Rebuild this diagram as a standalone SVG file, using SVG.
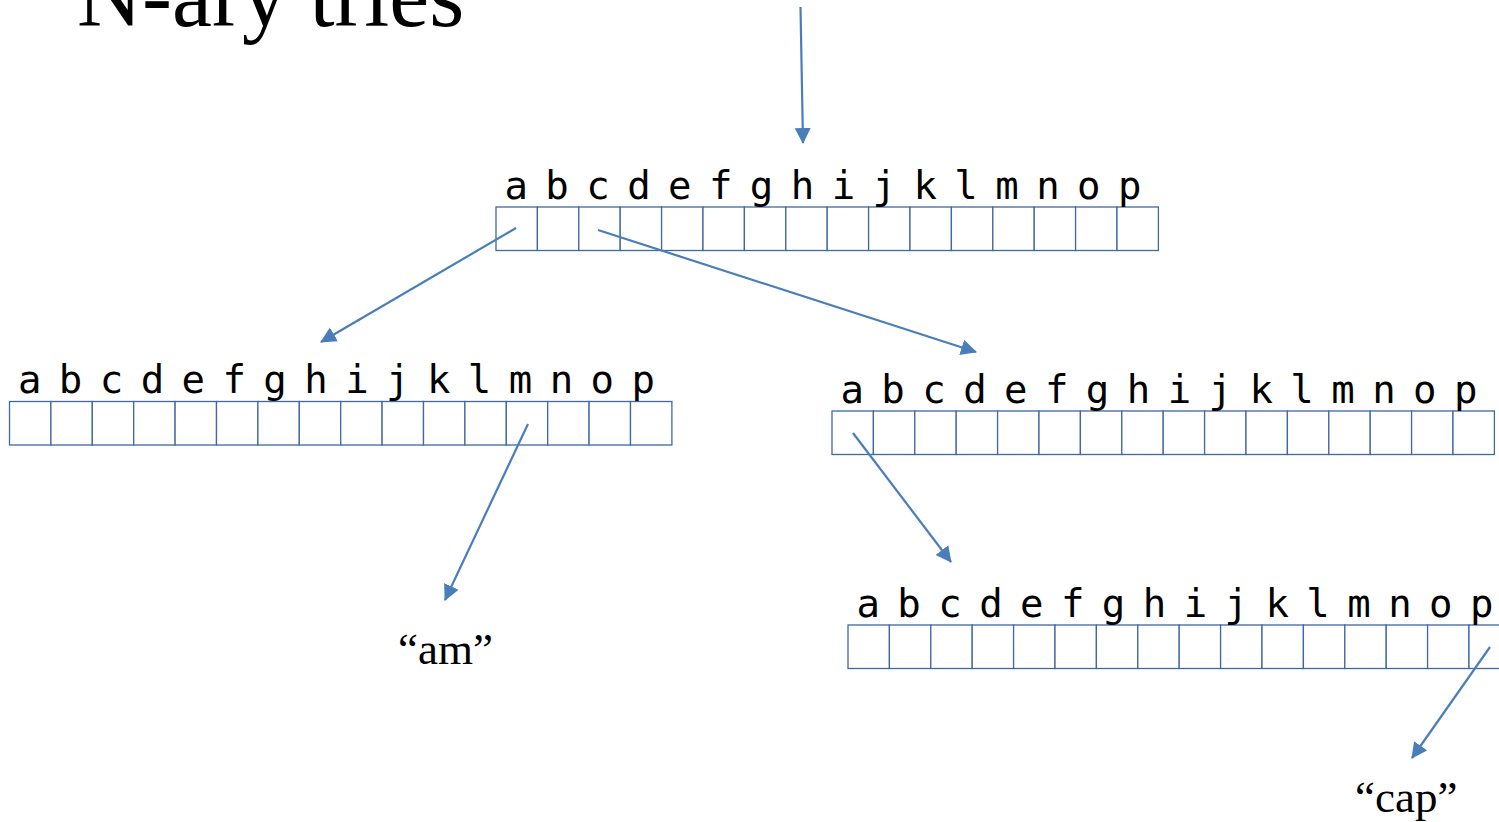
<svg xmlns="http://www.w3.org/2000/svg" width="1499" height="822" viewBox="0 0 1499 822">
  <style>
    .title { font-family: "Liberation Serif", "Times New Roman", serif; font-size: 90px; fill: #000; }
    .word { font-family: "Liberation Serif", "Times New Roman", serif; font-size: 45px; fill: #000; }
    .keys { font-family: "DejaVu Sans Mono", "Liberation Mono", monospace; font-size: 39px; fill: #000; text-anchor: middle; }
    .cell { fill: #fff; stroke: #41699f; stroke-width: 1.3; }
    .link { stroke: #4a7ebb; stroke-width: 2.2; fill: none; marker-end: url(#head); }
  </style>
  <defs>
    <marker id="head" markerUnits="userSpaceOnUse" markerWidth="18" markerHeight="18" refX="15" refY="8" orient="auto">
      <path d="M0,0 L16,8 L0,16 z" fill="#4a7ebb"/>
    </marker>
    <!-- one trie node: 16 child slots labelled a..p -->
    <g id="slots">
      <rect class="cell" x="0" y="0" width="41.4" height="43.5"/>
      <rect class="cell" x="41.4" y="0" width="41.4" height="43.5"/>
      <rect class="cell" x="82.8" y="0" width="41.4" height="43.5"/>
      <rect class="cell" x="124.2" y="0" width="41.4" height="43.5"/>
      <rect class="cell" x="165.6" y="0" width="41.4" height="43.5"/>
      <rect class="cell" x="207" y="0" width="41.4" height="43.5"/>
      <rect class="cell" x="248.4" y="0" width="41.4" height="43.5"/>
      <rect class="cell" x="289.8" y="0" width="41.4" height="43.5"/>
      <rect class="cell" x="331.2" y="0" width="41.4" height="43.5"/>
      <rect class="cell" x="372.6" y="0" width="41.4" height="43.5"/>
      <rect class="cell" x="414" y="0" width="41.4" height="43.5"/>
      <rect class="cell" x="455.4" y="0" width="41.4" height="43.5"/>
      <rect class="cell" x="496.8" y="0" width="41.4" height="43.5"/>
      <rect class="cell" x="538.2" y="0" width="41.4" height="43.5"/>
      <rect class="cell" x="579.6" y="0" width="41.4" height="43.5"/>
      <rect class="cell" x="621" y="0" width="41.4" height="43.5"/>
      <text class="keys" y="-8.5" x="20.2 61.1 102 142.9 183.8 224.7 265.6 306.5 347.4 388.3 429.2 470.1 511 551.9 592.8 633.7">abcdefghijklmnop</text>
    </g>
  </defs>

  <text class="title" x="77" y="26">N-ary tries</text>

  <g id="root">
    <use href="#slots" x="496" y="207"/>
  </g>
  <g id="node-a">
    <use href="#slots" x="9.5" y="401.5"/>
  </g>
  <g id="node-c">
    <use href="#slots" x="832" y="411"/>
  </g>
  <g id="node-ca">
    <use href="#slots" x="848" y="625"/>
  </g>
  <g id="leaf-am">
    <text class="word" x="398" y="664">“am”</text>
  </g>
  <g id="leaf-cap">
    <text class="word" x="1355" y="812">“cap”</text>
  </g>

  <g id="connectors">
    <line class="link" x1="800.5" y1="7" x2="803" y2="143"/>
    <line class="link" x1="516" y1="228" x2="321" y2="342"/>
    <line class="link" x1="598" y1="230" x2="976" y2="352"/>
    <line class="link" x1="528" y1="424" x2="445" y2="600"/>
    <line class="link" x1="853" y1="433" x2="951" y2="562"/>
    <line class="link" x1="1490" y1="647" x2="1412" y2="758"/>
  </g>
</svg>
